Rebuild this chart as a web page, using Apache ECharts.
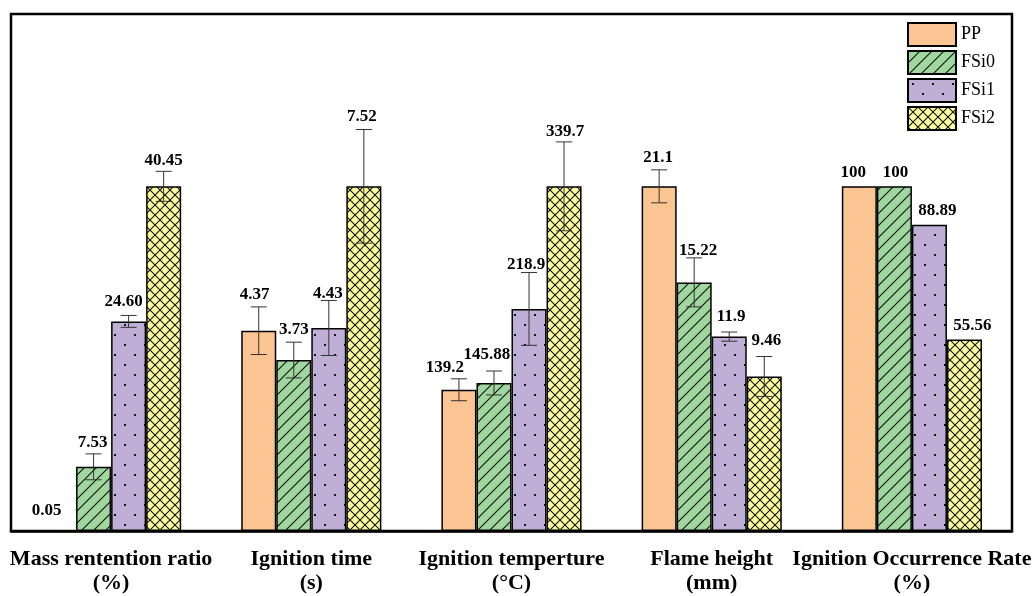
<!DOCTYPE html>
<html>
<head>
<meta charset="utf-8">
<script src="https://cdn.jsdelivr.net/npm/echarts@6/dist/echarts.min.js"></script>
<style>
  html, body { margin: 0; padding: 0; background: #fff; }
  #chart { width: 1035px; height: 596px; }
</style>
</head>
<body>
<div id="chart"></div>
<script>
// Measured properties, one entry per category
const categories = [
  'Mass rentention ratio\n(%)',
  'Ignition time\n(s)',
  'Ignition temperture\n(°C)',
  'Flame height\n(mm)',
  'Ignition Occurrence Rate\n(%)'
];
const seriesNames = ['PP', 'FSi0', 'FSi1', 'FSi2'];

// Reported values (as printed above each bar)
const ppValues   = ['0.05', '4.37', '139.2', '21.1', '100'];
const fsi0Values = ['7.53', '3.73', '145.88', '15.22', '100'];
const fsi1Values = ['24.60', '4.43', '218.9', '11.9', '88.89'];
const fsi2Values = ['40.45', '7.52', '339.7', '9.46', '55.56'];

// Standard deviations (0 = no error bar)
const ppErrors   = [0, 0.52, 10.8, 1.01, 0];
const fsi0Errors = [1.52, 0.39, 11.8, 1.50, 0];
const fsi1Errors = [0.70, 0.60, 35.9, 0.28, 0];
const fsi2Errors = [1.76, 1.24, 43.8, 1.22, 0];

// Value label placement tweaks: horizontal shift and gap above the whisker
const ppLabelDx   = [-12, -4, -14, -1, -6];
const fsi0LabelDx = [-1, 0, -7, 4, 1];
const fsi1LabelDx = [-5, -1, -3, 2, 8];
const fsi2LabelDx = [0, -2, 1, 2, 8];
const ppLabelGap   = [14, 7, 6, 7, 8];
const fsi0LabelGap = [6, 7, 11, 2, 8];
const fsi1LabelGap = [8, 1, 2, 10, 9];
const fsi2LabelGap = [5, 7, 5, 10, 8];

const valueTexts = [ppValues, fsi0Values, fsi1Values, fsi2Values];
const values = valueTexts.map(arr => arr.map(Number));
const errors = [ppErrors, fsi0Errors, fsi1Errors, fsi2Errors];
const labelDx = [ppLabelDx, fsi0LabelDx, fsi1LabelDx, fsi2LabelDx];
const labelGap = [ppLabelGap, fsi0LabelGap, fsi1LabelGap, fsi2LabelGap];

// Each property is shown relative to its largest value
const groupMax = categories.map((_, c) => Math.max(...values.map(s => s[c])));

// Fill patterns
function makePattern(bg, w, h, draw) {
  const cv = document.createElement('canvas');
  cv.width = w; cv.height = h;
  const ctx = cv.getContext('2d');
  ctx.fillStyle = bg;
  ctx.fillRect(0, 0, w, h);
  draw(ctx, w, h);
  return { image: cv, repeat: 'repeat' };
}
const solidOrange = '#FBC593';
const hatchGreen = makePattern('#9FD79E', 12, 12, (ctx, w, h) => {
  ctx.strokeStyle = '#111'; ctx.lineWidth = 1.1;
  ctx.beginPath();
  ctx.moveTo(-2, h + 2); ctx.lineTo(w + 2, -2);
  ctx.moveTo(-2, 2); ctx.lineTo(2, -2);
  ctx.moveTo(w - 2, h + 2); ctx.lineTo(w + 2, h - 2);
  ctx.stroke();
});
const dotPurple = makePattern('#BFAFD6', 20, 20, (ctx) => {
  ctx.fillStyle = '#111';
  ctx.fillRect(4, 4, 2, 2);
  ctx.fillRect(14, 14, 2, 2);
});
const crossYellow = makePattern('#FFFF9C', 10, 10, (ctx, w, h) => {
  ctx.strokeStyle = '#111'; ctx.lineWidth = 1.1;
  ctx.beginPath();
  ctx.moveTo(-1, -1); ctx.lineTo(w + 1, h + 1);
  ctx.moveTo(-1, h + 1); ctx.lineTo(w + 1, -1);
  ctx.stroke();
});
const fills = [solidOrange, hatchGreen, dotPurple, crossYellow];

const barSeries = seriesNames.map((name, s) => ({
  name: name,
  type: 'bar',
  barGap: '0%',
  barCategoryGap: '30%',
  itemStyle: { color: fills[s], borderColor: '#000', borderWidth: 1.5 },
  emphasis: { disabled: true },
  data: values[s].map((v, c) => v / groupMax[c])
}));

// Whiskers and value labels, one item per bar
const errData = [];
seriesNames.forEach((_, s) => {
  categories.forEach((_, c) => {
    errData.push([c, values[s][c] / groupMax[c], errors[s][c] / groupMax[c], s]);
  });
});

const labelFont = 'bold 17px "Liberation Serif", "Times New Roman", serif';

const errSeries = {
  type: 'custom',
  z: 10,
  silent: true,
  encode: { x: 0, y: 1 },
  data: errData,
  renderItem: function (params, api) {
    const c = api.value(0), v = api.value(1), e = api.value(2), s = api.value(3);
    const band = api.size([1, 0])[0];
    const bw = band * 0.7 / 4;
    const cx = api.coord([c, 0])[0] + (s - 1.5) * bw;
    const yTop = api.coord([c, v + e])[1];
    const yBot = api.coord([c, v - e])[1];
    const children = [];
    const cap = 8;
    if (e > 0) {
      const ls = { stroke: '#333', lineWidth: 1 };
      children.push({ type: 'line', shape: { x1: cx, y1: yTop, x2: cx, y2: yBot }, style: ls });
      children.push({ type: 'line', shape: { x1: cx - cap, y1: yTop, x2: cx + cap, y2: yTop }, style: ls });
      children.push({ type: 'line', shape: { x1: cx - cap, y1: yBot, x2: cx + cap, y2: yBot }, style: ls });
    }
    children.push({
      type: 'text',
      style: {
        text: valueTexts[s][c],
        x: cx + labelDx[s][c],
        y: yTop - labelGap[s][c] + 3,
        font: labelFont,
        fill: '#000',
        align: 'center',
        verticalAlign: 'bottom'
      }
    });
    return { type: 'group', children: children };
  }
};

const chart = echarts.init(document.getElementById('chart'), null, { renderer: 'canvas' });
chart.setOption({
  animation: false,
  backgroundColor: '#fff',
  grid: {
    left: 11, right: 23, top: 14, bottom: 65,
    show: true, borderColor: '#000', borderWidth: 2.5, backgroundColor: 'transparent'
  },
  legend: {
    data: seriesNames,
    orient: 'vertical',
    left: 907, top: 22,
    padding: 0,
    itemWidth: 48, itemHeight: 23, itemGap: 3,
    icon: 'rect',
    itemStyle: { borderColor: '#000', borderWidth: 2 },
    textStyle: { fontFamily: '"Liberation Serif", "Times New Roman", serif', fontSize: 18, color: '#000' },
    selectedMode: false
  },
  xAxis: {
    type: 'category',
    data: categories,
    axisLine: { show: true, lineStyle: { color: '#000', width: 2.5 } },
    axisTick: { show: false },
    axisLabel: {
      interval: 0,
      margin: 16,
      color: '#000',
      fontFamily: '"Liberation Serif", "Times New Roman", serif',
      fontWeight: 'bold',
      fontSize: 22,
      lineHeight: 24
    }
  },
  yAxis: {
    type: 'value', min: 0, max: 1.5, show: false, splitLine: { show: false }
  },
  series: [...barSeries, errSeries]
});
</script>
</body>
</html>
